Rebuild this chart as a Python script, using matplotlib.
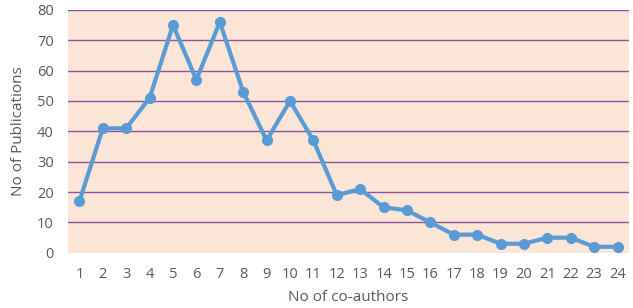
import matplotlib.pyplot as plt

coauthors = list(range(1, 25))
publications = [17, 41, 41, 51, 75, 57, 76, 53, 37, 50, 37, 19,
                21, 15, 14, 10, 6, 6, 3, 3, 5, 5, 2, 2]
y_ticks = list(range(0, 90, 10))

plt.rcParams["font.family"] = ["Open Sans", "DejaVu Sans"]
text_color = "#595959"

fig = plt.figure(figsize=(6.33, 3.08), dpi=100)
ax = fig.add_axes([0.107, 0.179, 0.887, 0.789])
ax.set_facecolor("#FBE5D6")

# gridlines, none at zero
for y in y_ticks[1:]:
    ax.axhline(y, color="#8A559F", linewidth=1.0, zorder=1)

ax.plot(coauthors, publications, "-o", color="#5B9BD5",
        linewidth=3, markersize=7, zorder=3)

ax.set_xlim(0.5, 24.5)
ax.set_ylim(0, 80)
ax.set_xticks(coauthors)
ax.set_yticks(y_ticks)
ax.tick_params(length=0, labelsize=10.5, colors=text_color, pad=10)
ax.tick_params(axis="y", pad=10)
for s in ax.spines.values():
    s.set_visible(False)

ax.set_xlabel("No of co-authors", fontsize=11, color=text_color, labelpad=6)
ax.set_ylabel("No of Publications", fontsize=11, color=text_color, labelpad=8)

plt.savefig("out.png", dpi=100)
